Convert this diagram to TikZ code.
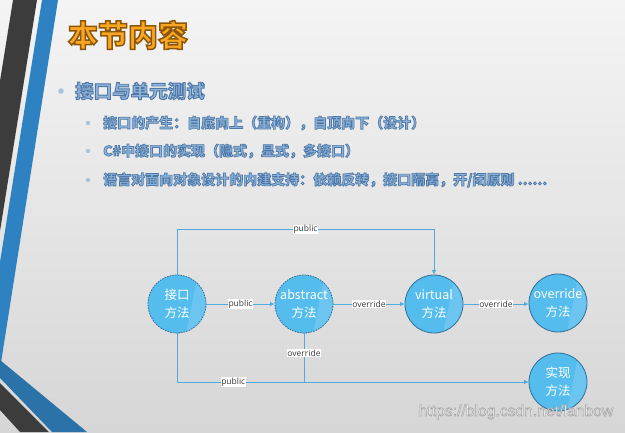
\documentclass[tikz,border=0pt]{standalone}
\usepackage{fontspec}
\newfontfamily\cjk{Noto Sans CJK SC}
\newfontfamily\cjkol{Noto Sans CJK SC}[BoldFeatures={FakeBold=5}]
\newfontfamily\lab{Open Sans}
\newfontfamily\wm{Liberation Sans}[FakeBold=3]
\newcommand\olstroke[1]{\special{pdf:literal direct #1 RG}}
\usetikzlibrary{arrows.meta}
\definecolor{bgtop}{HTML}{F4F4F4}
\definecolor{bgbot}{HTML}{D6D6D6}
\definecolor{darkstripe}{HTML}{3C3C3C}
\definecolor{bluestripe}{HTML}{2E82C2}
\definecolor{bluestripe2}{HTML}{2A72A8}
\definecolor{titlefill}{HTML}{F9A623}
\definecolor{bultext}{HTML}{8DB3DA}
\definecolor{buldot}{HTML}{A9C3DC}
\definecolor{circfill}{HTML}{55BDEE}
\definecolor{circedge}{HTML}{2F6E96}
\definecolor{linec}{HTML}{4FAADD}
\definecolor{labc}{HTML}{3A3A3A}
\begin{document}
\begin{tikzpicture}[x=1pt,y=-1pt,
  title/.style={inner sep=0pt, font=\cjkol\bfseries\fontsize{30}{36}\selectfont},
  bulmain/.style={anchor=west, inner sep=0pt, font=\cjkol\bfseries\fontsize{18.5}{22}\selectfont},
  bulsub/.style={anchor=west, inner sep=0pt, font=\cjkol\bfseries\fontsize{14}{16}\selectfont},
  circ/.style={circle, minimum size=58pt, inner sep=0pt, fill=circfill, draw=circedge,
    line width=0.8pt, text=white, align=center, font=\cjk\fontsize{12.5}{18}\selectfont,
    path picture={\fill[white, opacity=0.13]
      ([shift={(22,-35)}]path picture bounding box.center) --
      ([shift={(35,-35)}]path picture bounding box.center) --
      ([shift={(35,35)}]path picture bounding box.center) --
      ([shift={(8,35)}]path picture bounding box.center) -- cycle;}},
  dcirc/.style={circ, dash pattern=on 1.6pt off 1.1pt},
  conn/.style={draw=linec, line width=0.9pt, -{Latex[length=4.5pt,width=4.5pt]}},
  plain/.style={draw=linec, line width=0.9pt},
  lbl/.style={fill=white, inner sep=0.6pt, text=labc, font=\lab\fontsize{8.5}{10}\selectfont}]
\useasboundingbox (0,0) rectangle (625,432);
\shade[top color=bgtop, bottom color=bgbot] (0,0) rectangle (625,432);
% left stripes
\fill[darkstripe] (13,0) -- (37,0) -- (0,231) -- (0,81) -- cycle;
\fill[bluestripe] (42,0) -- (58,0) -- (0,369) -- (0,262) -- cycle;
\fill[bluestripe2] (0,360) -- (87,432) -- (52,432) -- (0,378) -- cycle;
\fill[darkstripe] (0,383) -- (49,432) -- (20,432) -- (0,410) -- cycle;
% title
\node[title, text=titlefill] (title) at (128,35) {\olstroke{0.55 0.34 0.04}本节内容};
% bullets
\fill[buldot] (61,91) circle (2.8pt);
\node[bulmain, text=bultext] (b0) at (75,91) {\olstroke{0.31 0.47 0.65}接口与单元测试};
\foreach \yy in {123,151,180}
  \fill[buldot] (88,\yy) circle (2.2pt);
\node[bulsub, text=bultext] (b1) at (103,123) {\olstroke{0.31 0.47 0.65}接口的产生：自底向上（重构），自顶向下（设计）};
\node[bulsub, text=bultext] (b2) at (103,151) {\olstroke{0.31 0.47 0.65}C\#中接口的实现（隐式，显式，多接口）};
\node[bulsub, text=bultext] (b3) at (103,180) {\olstroke{0.31 0.47 0.65}语言对面向对象设计的内建支持：依赖反转，接口隔离，开/闭原则 ......};
% diagram
\node[dcirc] (c1) at (177,304) {接口\\方法};
\node[dcirc] (c2) at (304,304) {abstract\\方法};
\node[circ] (c3) at (434,304) {virtual\\方法};
\node[circ] (c4) at (558,303) {override\\方法};
\node[circ] (c5) at (558,382) {实现\\方法};
\draw[conn] (c1.north) -- ++(0,-45) coordinate (tc) -| node[lbl, pos=0.25] {public} (c3.north);
\draw[conn] (c1) -- node[lbl] {public} (c2);
\draw[conn] (c2) -- node[lbl] {override} (c3);
\draw[conn] (c3) -- node[lbl] {override} (c4.west |- c3.east);
\draw[conn] (c1.south) |- node[lbl, pos=0.58] {public} (c5.west);
\draw[plain] (c2.south) -- node[lbl, pos=0.41] {override} (c2.south |- c5.west);
% watermark
\node[inner sep=0pt, text=white!95!black, font=\wm\fontsize{15.7}{18}\selectfont]
  (wm) at (516,412) {\olstroke{0.62 0.62 0.62}https://blog.csdn.net/lanbow};
\end{tikzpicture}
\end{document}
